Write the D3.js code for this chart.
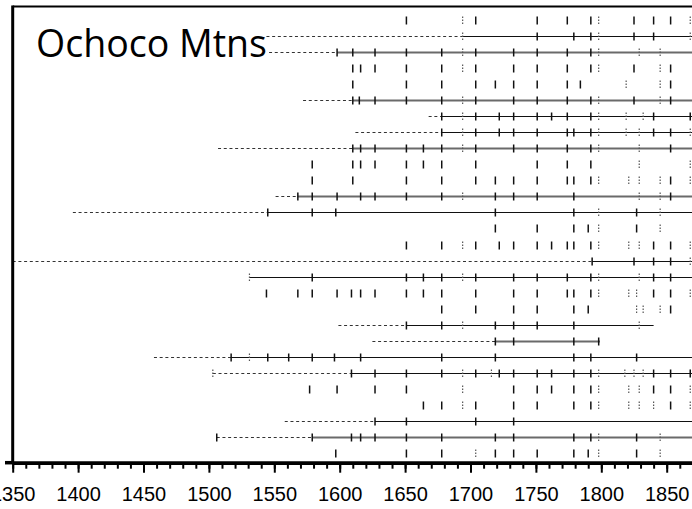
<!DOCTYPE html>
<html>
<head>
<meta charset="utf-8">
<style>
	body { margin: 0; background: #fff; }
	svg { display: block; }
	.title { font-family: 'Open Sans', sans-serif; font-size: 37.5px; fill: #000; }
	.axis text { font-family: 'Liberation Sans', Arial, sans-serif; font-size: 20px; fill: #000; }
	.axis .domain { stroke: #000; stroke-width: 3.5px; }
	.axis .tick line { stroke: #000; stroke-width: 2px; }
</style>
</head>
<body>
<svg id="chart"></svg>
<script src="https://cdn.jsdelivr.net/npm/d3@7/dist/d3.min.js"></script>
<script>
const WIDTH = 692;
const HEIGHT = 509;

// one entry per tree, top to bottom (null = nothing drawn)
const nullStart = [null, 1544, 1546, null, null, 1572, 1668, 1612, 1507, null, null, 1551, 1396, null,
	null, 1350, null, null, null, 1599, 1625, 1458, 1503, null, null, 1558, 1506, null];
const recStart = [null, 1694, 1598, null, null, 1610, 1678, 1678, 1610, null, null, 1568, 1545, null,
	null, 1793, 1531, null, null, 1651, 1719, 1517, 1609, null, null, 1627, 1579, null];
const recEnd = [null, 1880, 1880, null, null, 1880, 1880, 1880, 1880, null, null, 1880, 1880, null,
	null, 1880, 1880, null, null, 1840, 1799, 1880, 1880, null, null, 1880, 1880, null];

const scarYears = [
	[1651, 1704, 1751, 1774, 1792, 1825, 1840, 1853],
	[1751, 1779, 1792, 1825, 1840],
	[1598, 1610, 1627, 1651, 1678, 1704, 1733, 1751, 1774, 1792],
	[1610, 1616, 1627, 1651, 1678, 1704, 1733, 1751, 1774, 1792, 1825, 1853],
	[1610, 1651, 1678, 1704, 1719, 1733, 1751, 1774, 1784, 1853],
	[1610, 1615, 1627, 1651, 1678, 1704, 1733, 1751, 1774, 1792, 1825, 1853],
	[1678, 1704, 1722, 1733, 1751, 1762, 1774, 1792, 1840, 1868],
	[1678, 1704, 1722, 1733, 1751, 1774, 1779, 1792, 1840, 1853],
	[1610, 1616, 1627, 1651, 1664, 1678, 1704, 1733, 1751, 1774, 1792, 1853],
	[1579, 1610, 1616, 1627, 1651, 1664, 1678, 1704, 1751, 1774, 1792],
	[1579, 1610, 1651, 1678, 1704, 1719, 1733, 1751, 1774, 1779, 1792, 1853],
	[1568, 1579, 1598, 1616, 1627, 1651, 1678, 1719, 1733, 1751, 1779, 1853],
	[1545, 1579, 1597, 1719, 1779, 1827],
	[1719, 1751, 1779, 1790, 1827],
	[1651, 1678, 1704, 1722, 1733, 1751, 1762, 1774, 1779, 1792, 1840, 1853],
	[1793, 1825, 1840, 1853],
	[1579, 1651, 1664, 1678, 1704, 1733, 1751, 1774, 1792, 1840, 1853],
	[1544, 1568, 1579, 1598, 1609, 1616, 1627, 1651, 1664, 1678, 1704, 1733, 1751, 1774, 1779, 1792, 1840, 1853],
	[1678, 1704, 1733, 1751, 1779, 1790, 1853],
	[1651, 1678, 1719, 1733, 1751, 1779],
	[1719, 1733, 1779, 1798],
	[1517, 1545, 1561, 1579, 1596, 1616, 1678, 1719, 1779, 1792, 1827],
	[1609, 1627, 1651, 1678, 1704, 1722, 1733, 1751, 1762, 1779, 1792, 1840, 1853, 1868],
	[1577, 1598, 1627, 1651, 1733, 1751, 1762, 1779, 1792, 1840, 1853],
	[1664, 1678, 1704, 1733, 1751, 1779, 1792, 1853],
	[1627, 1651, 1704, 1733],
	[1506, 1579, 1609, 1616, 1627, 1651, 1678, 1719, 1733, 1779, 1792, 1827],
	[1597, 1651, 1678, 1719, 1733, 1751, 1779, 1790, 1827]
];

// faint (dotted) marks
const faintYears = [
	[1694, 1798, 1868],
	[1694, 1798, 1868],
	[1694, 1798, 1829, 1845],
	[1694, 1798, 1845],
	[1819, 1845],
	[1694, 1798, 1845],
	[1694, 1798, 1819, 1832],
	[1694, 1798, 1819, 1829, 1868],
	[1694, 1798, 1829],
	[1829, 1868],
	[1798, 1821, 1829, 1845, 1868],
	[1694, 1829, 1845],
	[1798, 1845],
	[1798, 1845],
	[1694, 1798, 1821, 1829, 1868],
	[1868],
	[1531, 1694, 1798, 1829],
	[1798, 1821, 1827, 1868],
	[1827, 1832, 1845],
	[1694, 1829],
	[],
	[1531],
	[1503, 1694, 1716, 1798, 1818, 1825, 1832],
	[1694, 1798, 1821, 1829, 1868],
	[1694, 1798, 1821, 1829, 1840, 1868],
	[],
	[1798, 1845],
	[1704, 1798, 1845]
];

const labelYears = [1350, 1400, 1450, 1500, 1550, 1600, 1650, 1700, 1750, 1800, 1850];
const minorYears = d3.range(1350, 1880, 10);

const $svg = d3.select('#chart').attr('width', WIDTH).attr('height', HEIGHT);

const AXIS_Y = 462.7;
const TOP_Y = 6.5;

const x = d3.scaleLinear().domain([1350, 1900]).range([12.7, 12.7 + 550 * 1.308]);
const y = d3.scalePoint().domain(d3.range(scarYears.length)).range([20.3, 452.7]);

function drawRows() {
	const rows = scarYears.map((scars, i) => ({
		i,
		scars,
		faint: faintYears[i],
		n0: nullStart[i],
		r0: recStart[i],
		r1: recEnd[i]
	}));

	const $row = $svg
		.selectAll('.row')
		.data(rows)
		.enter()
		.append('g')
		.attr('class', 'row')
		.attr('transform', d => `translate(0,${Math.round(y(d.i)) + 0.5})`);

	// dashed (not recording) part
	$row
		.filter(d => d.n0 !== null)
		.append('line')
		.attr('x1', d => x(d.n0))
		.attr('x2', d => x(d.r0))
		.attr('stroke', '#333')
		.attr('stroke-width', 1)
		.attr('stroke-dasharray', '3,2.7');

	// recorder line, every third one came out soft and grey in the original
	$row
		.filter(d => d.r0 !== null)
		.append('line')
		.attr('x1', d => x(d.r0))
		.attr('x2', d => x(d.r1))
		.attr('stroke', d => (d.i % 3 === 2 ? '#6a6a6a' : '#111'))
		.attr('stroke-width', d => (d.i % 3 === 2 ? 2 : 1));

	$row
		.selectAll('.scar')
		.data(d => d.scars)
		.enter()
		.append('line')
		.attr('class', 'scar')
		.attr('x1', d => x(d))
		.attr('x2', d => x(d))
		.attr('y1', -4)
		.attr('y2', 4)
		.attr('stroke', '#111')
		.attr('stroke-width', 1.5);

	$row
		.selectAll('.faint')
		.data(d => d.faint)
		.enter()
		.append('line')
		.attr('class', 'faint')
		.attr('x1', d => x(d))
		.attr('x2', d => x(d))
		.attr('y1', -4)
		.attr('y2', 4)
		.attr('stroke', '#555')
		.attr('stroke-width', 1.2)
		.attr('stroke-dasharray', '1.5,1.5');
}

function drawFrame() {
	// top border
	$svg
		.append('line')
		.attr('x1', x(1350))
		.attr('x2', WIDTH)
		.attr('y1', TOP_Y)
		.attr('y2', TOP_Y)
		.attr('stroke', '#000')
		.attr('stroke-width', 2);

	// left axis
	$svg
		.append('line')
		.attr('x1', x(1350))
		.attr('x2', x(1350))
		.attr('y1', TOP_Y - 1)
		.attr('y2', AXIS_Y)
		.attr('stroke', '#000')
		.attr('stroke-width', 3);

	$svg
		.append('g')
		.attr('class', 'axis')
		.attr('transform', `translate(0,${AXIS_Y})`)
		.call(
			d3.axisBottom(x)
				.tickValues(minorYears)
				.tickSize(6)
				.tickSizeOuter(0)
				.tickFormat('')
		);

	$svg
		.append('g')
		.attr('class', 'axis')
		.attr('transform', `translate(0,${AXIS_Y})`)
		.call(
			d3.axisBottom(x)
				.tickValues(labelYears)
				.tickSize(10)
				.tickSizeOuter(0)
				.tickPadding(14)
				.tickFormat(d3.format('d'))
		);

	$svg
		.append('line')
		.attr('x1', 5)
		.attr('x2', x(1350))
		.attr('y1', AXIS_Y)
		.attr('y2', AXIS_Y)
		.attr('stroke', '#000')
		.attr('stroke-width', 3.5);

	$svg
		.append('text')
		.attr('class', 'title')
		.attr('x', 36)
		.attr('y', 57)
		.text('Ochoco Mtns');
}

drawRows();
drawFrame();
</script>
</body>
</html>
